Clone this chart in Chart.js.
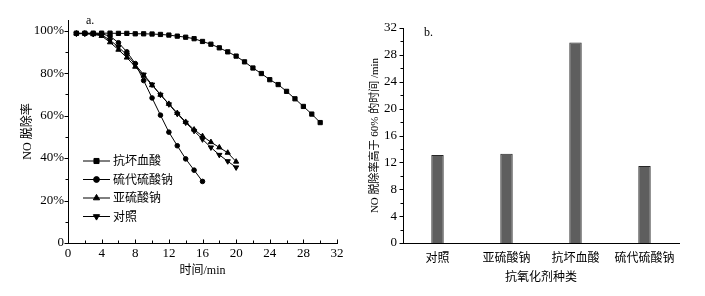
<!DOCTYPE html>
<html>
<head>
<meta charset="utf-8">
<script src="https://cdn.jsdelivr.net/npm/chart.js@4.4.1/dist/chart.umd.min.js"></script>
<style>
html,body{margin:0;padding:0;background:#fff;}
#wrap{position:relative;width:705px;height:296px;background:#fff;overflow:hidden;}
canvas{position:absolute;top:0;}
#c1{left:0;}
#c2{left:360px;}
</style>
</head>
<body>
<div id="wrap">
<canvas id="c1" width="360" height="296"></canvas>
<canvas id="c2" width="345" height="296"></canvas>
</div>
<script>
// ---------- Panel a: NO removal rate vs time ----------
const seriesNames = ['抗坏血酸', '硫代硫酸钠', '亚硫酸钠', '对照'];
const minutesAscorbic = [1,2,3,4,5,6,7,8,9,10,11,12,13,14,15,16,17,18,19,20,21,22,23,24,25,26,27,28,29,30];
const minutesThio = [1,2,3,4,5,6,7,8,9,10,11,12,13,14,15,16];
const minutesSulfite = [1,2,3,4,5,6,7,8,9,10,11,12,13,14,15,16,17,18,19,20];
const minutesControl = [1,2,3,4,5,6,7,8,9,10,11,12,13,14,15,16,17,18,19,20];
const rateAscorbic = [98.8,98.8,98.8,98.8,98.8,98.7,98.7,98.5,98.5,98.4,98.2,97.9,97.4,96.9,96.2,94.9,93.6,91.9,90.0,88.0,85.3,82.4,79.8,76.9,74.6,71.4,67.9,64.3,60.7,56.7];
const rateThio = [98.6,98.6,98.6,98.5,97.4,94.3,90.0,84.5,76.5,68.3,60.2,52.2,45.8,39.6,34.3,29.0];
const rateSulfite = [98.6,98.6,98.3,97.5,94.5,91.0,87.3,83.0,78.8,74.3,69.8,65.5,61.2,57.0,53.4,50.3,47.5,45.0,42.5,38.3];
const rateControl = [98.6,98.6,98.4,98.0,95.5,92.3,88.5,84.0,79.3,74.6,69.8,65.3,60.8,56.7,52.8,48.8,45.0,41.5,38.5,35.6];
const xTicksA = [0,4,8,12,16,20,24,28,32];
const xMinorA = [2,6,10,14,18,22,26,30];
const yTicksA = [0,20,40,60,80,100];
const yMinorA = [10,30,50,70,90];

// ---------- Panel b: time above 60% ----------
const agentNames = ['对照', '亚硫酸钠', '抗坏血酸', '硫代硫酸钠'];
const timeAbove60 = [13.1, 13.3, 29.85, 11.45];
const yTicksB = [0,4,8,12,16,20,24,28,32];
const yMinorB = [2,6,10,14,18,22,26,30];

const SERIF = "'Liberation Serif','Noto Sans CJK SC'";

const toXY = (xs, ys) => xs.map((x, i) => ({x: x, y: ys[i]}));

const tickMarks = {
  id: 'tickMarks',
  afterDraw(chart, args, opts) {
    const ctx = chart.ctx;
    ctx.save();
    ctx.strokeStyle = '#000';
    ctx.lineWidth = 1;
    (opts.items || []).forEach(it => {
      const s = chart.scales[it.axis];
      it.values.forEach(v => {
        const p = Math.round(s.getPixelForValue(v)) + 0.5;
        ctx.beginPath();
        if (it.axis === 'y') {
          const x0 = Math.round(s.right) + 0.5;
          ctx.moveTo(x0, p); ctx.lineTo(x0 - it.len, p);
        } else {
          const y0 = Math.round(s.top) + 0.5;
          ctx.moveTo(p, y0); ctx.lineTo(p, y0 - it.len);
        }
        ctx.stroke();
      });
    });
    if (opts.label) {
      ctx.fillStyle = '#000';
      ctx.font = "12px " + SERIF;
      ctx.textBaseline = 'middle';
      ctx.fillText(opts.label.text, opts.label.x, opts.label.y);
    }
    ctx.restore();
  }
};

const innerLegend = {
  id: 'innerLegend',
  afterDraw(chart, args, opts) {
    const ctx = chart.ctx;
    ctx.save();
    chart.data.datasets.forEach((ds, i) => {
      const y = opts.top + i * opts.rowGap;
      ctx.strokeStyle = '#000';
      ctx.lineWidth = 1;
      ctx.beginPath();
      ctx.moveTo(opts.left, y + 0.5);
      ctx.lineTo(opts.left + opts.lineLen, y + 0.5);
      ctx.stroke();
      ctx.fillStyle = '#000';
      Chart.helpers.drawPoint(ctx, {
        pointStyle: ds.pointStyle,
        radius: ds.pointRadius + 0.6,
        rotation: ds.pointRotation || 0,
        borderWidth: 1
      }, opts.left + opts.lineLen / 2, y + 0.5);
      ctx.font = "12px 'Noto Sans CJK SC'";
      ctx.textBaseline = 'middle';
      ctx.textAlign = 'left';
      ctx.fillText(ds.label, opts.left + opts.lineLen + 3, y);
    });
    ctx.restore();
  }
};

const lineStyle = (style, r, rot) => ({
  borderColor: '#000', backgroundColor: '#000',
  pointBackgroundColor: '#000', pointBorderColor: '#000',
  borderWidth: 1, pointBorderWidth: 1,
  pointStyle: style, pointRadius: r, pointRotation: rot || 0,
  tension: 0, fill: false
});

new Chart(document.getElementById('c1'), {
  type: 'line',
  data: {
    datasets: [
      Object.assign({label: seriesNames[0], data: toXY(minutesAscorbic, rateAscorbic)}, lineStyle('rect', 3.0)),
      Object.assign({label: seriesNames[1], data: toXY(minutesThio, rateThio)}, lineStyle('circle', 2.3)),
      Object.assign({label: seriesNames[2], data: toXY(minutesSulfite, rateSulfite)}, lineStyle('triangle', 3.0)),
      Object.assign({label: seriesNames[3], data: toXY(minutesControl, rateControl)}, lineStyle('triangle', 3.0, 180))
    ]
  },
  options: {
    responsive: false, animation: false, devicePixelRatio: 1,
    layout: {padding: {left: 0, right: 23, top: 20, bottom: 14}},
    plugins: {
      legend: {display: false}, tooltip: {enabled: false},
      tickMarks: {
        items: [
          {axis: 'x', values: xTicksA, len: 4},
          {axis: 'x', values: xMinorA, len: 3},
          {axis: 'y', values: yTicksA, len: 4},
          {axis: 'y', values: yMinorA, len: 3}
        ],
        label: {text: 'a.', x: 86, y: 21}
      },
      innerLegend: {left: 83, lineLen: 27, top: 160.5, rowGap: 18.5}
    },
    scales: {
      x: {
        type: 'linear', min: 0, max: 32,
        afterBuildTicks: s => { s.ticks = xTicksA.map(v => ({value: v})); },
        afterFit: s => { s.height = 39; },
        grid: {display: false, drawTicks: false},
        border: {display: true, color: '#000', width: 1},
        ticks: {color: '#000', font: {family: SERIF, size: 13}, padding: 3, maxRotation: 0},
        title: {display: true, text: '时间/min', color: '#000', font: {family: SERIF, size: 12}, padding: {top: 0, bottom: 4}}
      },
      y: {
        type: 'linear', min: 0, max: 105,
        afterBuildTicks: s => { s.ticks = yTicksA.map(v => ({value: v})); },
        afterFit: s => { s.width = 68; },
        grid: {display: false, drawTicks: false},
        border: {display: true, color: '#000', width: 1},
        ticks: {color: '#000', font: {family: SERIF, size: 13}, padding: 4,
          callback: v => (v === 0 ? '0' : v + '%')},
        title: {display: true, text: 'NO 脱除率', color: '#000', font: {family: SERIF, size: 12}, padding: {top: 21, bottom: 0}}
      }
    }
  },
  plugins: [tickMarks, innerLegend]
});

new Chart(document.getElementById('c2'), {
  type: 'bar',
  data: {
    labels: agentNames,
    datasets: [{
      data: timeAbove60,
      backgroundColor: '#5e5e5e',
      borderColor: '#262626',
      borderWidth: 1,
      barPercentage: 0.18,
      categoryPercentage: 1.0
    }]
  },
  options: {
    responsive: false, animation: false, devicePixelRatio: 1,
    layout: {padding: {left: 0, right: 26, top: 28, bottom: 10}},
    plugins: {
      legend: {display: false}, tooltip: {enabled: false},
      tickMarks: {
        items: [
          {axis: 'y', values: yTicksB, len: 4},
          {axis: 'y', values: yMinorB, len: 3}
        ],
        label: {text: 'b.', x: 64, y: 33}
      }
    },
    scales: {
      x: {
        afterFit: s => { s.height = 43; },
        grid: {display: false, drawTicks: false},
        border: {display: true, color: '#000', width: 1},
        ticks: {color: '#000', font: {family: "'Noto Sans CJK SC'", size: 12}, padding: 7, maxRotation: 0},
        title: {display: true, text: '抗氧化剂种类', color: '#000', font: {family: "'Noto Sans CJK SC'", size: 12}, padding: {top: 0, bottom: 2}}
      },
      y: {
        type: 'linear', min: 0, max: 32,
        afterBuildTicks: s => { s.ticks = yTicksB.map(v => ({value: v})); },
        afterFit: s => { s.width = 43; },
        grid: {display: false, drawTicks: false},
        border: {display: true, color: '#000', width: 1},
        ticks: {color: '#000', font: {family: SERIF, size: 13}, padding: 6},
        title: {display: true, text: 'NO 脱除率高于 60% 的时间 /min', color: '#000', font: {family: SERIF, size: 11}, padding: {top: 9, bottom: 0}}
      }
    }
  },
  plugins: [tickMarks]
});
</script>
</body>
</html>
